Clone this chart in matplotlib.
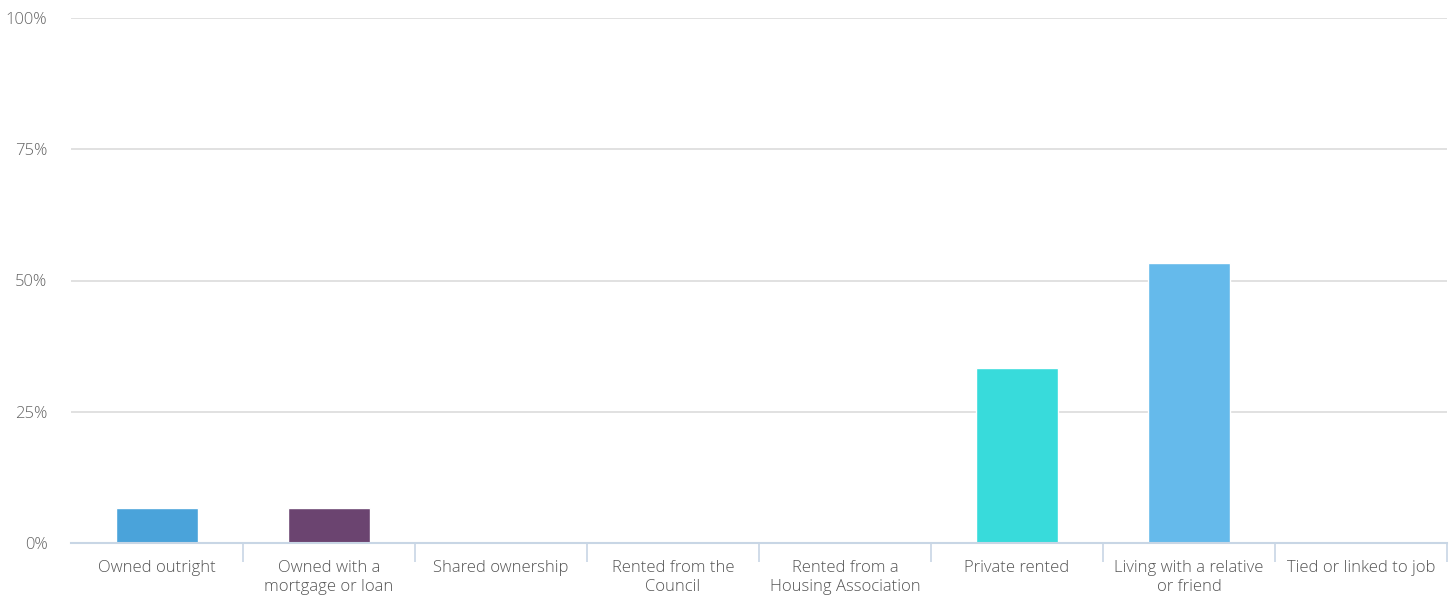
import matplotlib.pyplot as plt
import numpy as np

# housing tenure shares (percent of respondents)
categories = ["Owned outright", "Owned with a\nmortgage or loan", "Shared ownership",
              "Rented from the\nCouncil", "Rented from a\nHousing Association",
              "Private rented", "Living with a relative\nor friend", "Tied or linked to job"]
values = [6.67, 6.67, 0, 0, 0, 33.33, 53.33, 0]
colors = ["#4aa3da", "#6b4470", "#4aa3da", "#4aa3da", "#4aa3da",
          "#38dbdb", "#65baeb", "#4aa3da"]
yticks = [0, 25, 50, 75, 100]
ytick_labels = ["0%", "25%", "50%", "75%", "100%"]

plt.rcParams['font.family'] = ['Open Sans', 'DejaVu Sans']

fig = plt.figure(figsize=(14.55, 5.96), dpi=100)
ax = fig.add_axes([71 / 1455, 53 / 596, 1376 / 1455, 525 / 596])

x = np.arange(len(categories))
ax.bar(x, values, width=0.48, color=colors, edgecolor="white", linewidth=1, zorder=3)

ax.set_xlim(-0.5, len(categories) - 0.5)
ax.set_ylim(0, 100)

ax.set_yticks(yticks)
ax.set_yticklabels(ytick_labels)
ax.yaxis.grid(True, color="#dcdcdc", linewidth=1.2, zorder=0)
ax.tick_params(axis="y", length=0, pad=17, labelsize=12, labelcolor="#666666")

# category labels centred, separator ticks on the boundaries
ax.set_xticks(x)
ax.set_xticklabels(categories, fontweight="light", linespacing=1.25)
ax.tick_params(axis="x", length=0, pad=12, labelsize=12, labelcolor="#555555")
ax.set_xticks(np.arange(0.5, len(categories), 1), minor=True)
ax.tick_params(axis="x", which="minor", length=14, width=1.2, color="#c8d6e5")

for side in ["top", "right", "left"]:
    ax.spines[side].set_visible(False)
ax.spines["bottom"].set_color("#c8d6e5")
ax.spines["bottom"].set_linewidth(1.5)
ax.spines["bottom"].set_zorder(4)

for lbl in ax.get_yticklabels():
    lbl.set_horizontalalignment("right")
    lbl.set_fontweight("light")

fig.savefig("out.png", dpi=100, facecolor="white")
